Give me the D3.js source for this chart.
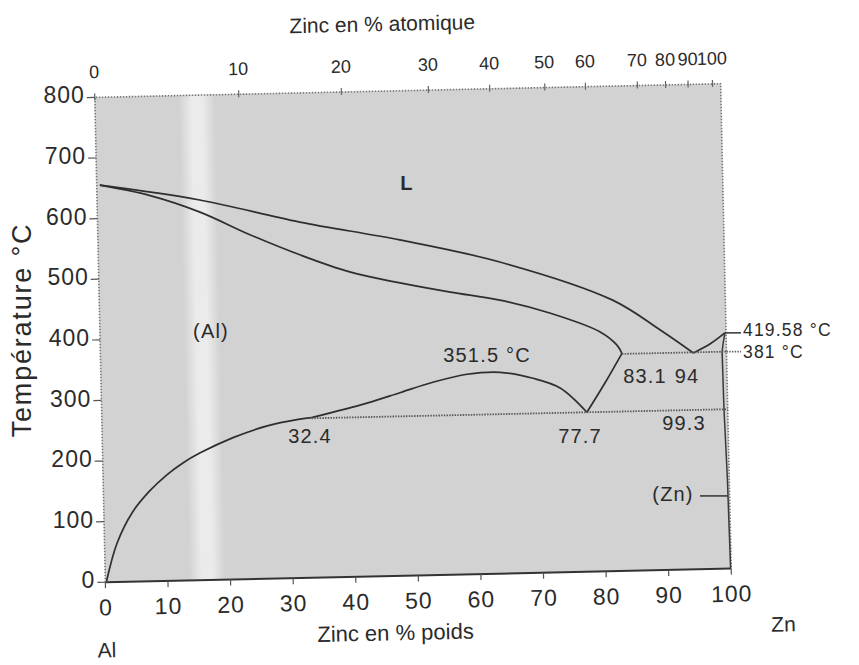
<!DOCTYPE html>
<html><head><meta charset="utf-8">
<script src="https://cdn.jsdelivr.net/npm/d3@7"></script>
<style>
body{margin:0;background:#fff}
svg{display:block}
text{font-family:"Liberation Sans",Arial,sans-serif;fill:#2b2b2b}
</style></head>
<body><svg id="c" width="859" height="665"></svg>
<script>
// ---------- data (wt% Zn, temperature °C) ----------
const xTicks = [0,10,20,30,40,50,60,70,80,90,100];
const yTicks = [0,100,200,300,400,500,600,700,800];
const atomicLabels = [0,10,20,30,40,50,60,70,80,90,100];
const atomicPosWt  = [0,23.0,39.4,53.3,63.1,71.9,78.4,86.7,91.2,94.8,98.7];

const liquidusAl = [[0.5,655],[16.4,627],[32.3,587],[48.2,554],[64.1,514],[82,447],[89.5,396],[94.7,357]];
const liquidusZn = [[94.7,357],[97.5,372],[99.8,389]];
const solidusAl  = [[0.5,655],[8.5,636],[16.4,607],[24.3,568],[32.2,533],[40.1,503],[48.1,483],[56.1,466],[64,451],[71.9,428],[79.9,395],[82.5,373],[83.3,359]];
const solvusAl   = [[0.2,2],[2,64],[4.6,115],[7.4,149],[10.2,175],[12.8,194],[15.6,210],[20.9,234],[26.4,252],[31.6,262],[33.5,264]];
const domeGap    = [[33.5,264],[42.4,286],[47.7,302],[53,318],[58.5,330],[63.8,332],[69,321],[73.3,304],[77.5,263]];
const domeRight  = [[77.5,263],[80.5,311],[83.3,359]];
const solvusZn   = [[99.8,389],[99.5,372],[99.3,358],[99.4,263],[99.7,150],[99.9,0]];
const eutecticLine  = [[83.3,358],[100,358]];
const eutectoidLine = [[33.5,263],[100,263]];

// ---------- layout ----------
const cx=413, cy=333, ang=-1.25;
const L=100, R=726, T=90.5, B=575.5;
const x = d3.scaleLinear().domain([0,100]).range([L,R]);
const y = d3.scaleLinear().domain([0,800]).range([B,T]);
const rad = ang*Math.PI/180, cs=Math.cos(rad), sn=Math.sin(rad);
function rot(px,py){const dx=px-cx, dy=py-cy; return [cx+dx*cs-dy*sn, cy+dx*sn+dy*cs];}

const svg = d3.select('#c');
const defs = svg.append('defs');
const gr = defs.append('linearGradient').attr('id','band').attr('x1',0).attr('x2',1).attr('y1',0).attr('y2',0);
gr.append('stop').attr('offset',0).attr('stop-color','#d2d2d2');
gr.append('stop').attr('offset',0.35).attr('stop-color','#ebebeb');
gr.append('stop').attr('offset',0.65).attr('stop-color','#ebebeb');
gr.append('stop').attr('offset',1).attr('stop-color','#d2d2d2');

const g = svg.append('g').attr('transform',`rotate(${ang},${cx},${cy})`);
g.append('rect').attr('x',L).attr('y',T).attr('width',R-L).attr('height',B-T).attr('fill','#d2d2d2');
g.append('rect').attr('x',184).attr('y',T).attr('width',36).attr('height',B-T).attr('fill','url(#band)');
g.append('path').attr('d',`M${L},${B}V${T}H${R}V${B}`).attr('fill','none')
  .attr('stroke','#777').attr('stroke-width',1.6).attr('stroke-dasharray','1.5,1.5');
g.append('line').attr('x1',L).attr('x2',R).attr('y1',B).attr('y2',B).attr('stroke','#333').attr('stroke-width',2);

// bottom ticks + labels
g.selectAll('.xt').data(xTicks).join('line').attr('x1',d=>x(d)).attr('x2',d=>x(d))
  .attr('y1',B).attr('y2',B+6).attr('stroke','#555').attr('stroke-width',1.2);
g.selectAll('.xl').data(xTicks).join('text').attr('x',d=>x(d)).attr('y',B+27)
  .attr('text-anchor','middle').attr('dominant-baseline','middle')
  .style('font-size','23px').style('letter-spacing','1px').text(d=>d);
// top (atomic %) ticks + labels
g.selectAll('.at').data(atomicPosWt).join('line').attr('x1',d=>x(d)).attr('x2',d=>x(d))
  .attr('y1',T-4).attr('y2',T+3).attr('stroke','#666').attr('stroke-width',1.2);
g.selectAll('.al').data(atomicLabels).join('text').attr('x',(d,i)=>x(atomicPosWt[i])).attr('y',T-24)
  .attr('text-anchor','middle').attr('dominant-baseline','middle')
  .style('font-size','18px').text(d=>d);
g.append('text').attr('x',389).attr('y',25).attr('text-anchor','middle').attr('dominant-baseline','middle')
  .style('font-size','21px').text('Zinc en % atomique');
g.append('text').attr('x',389).attr('y',634).attr('text-anchor','middle').attr('dominant-baseline','middle')
  .style('font-size','22px').text('Zinc en % poids');
g.append('text').attr('x',100).attr('y',645).attr('text-anchor','middle').attr('dominant-baseline','middle')
  .style('font-size','21px').text('Al');
g.append('text').attr('x',777).attr('y',634).attr('text-anchor','middle').attr('dominant-baseline','middle')
  .style('font-size','21px').text('Zn');
// y ticks
g.selectAll('.yt').data(yTicks).join('line').attr('x1',L-8).attr('x2',L)
  .attr('y1',d=>y(d)).attr('y2',d=>y(d)).attr('stroke','#555').attr('stroke-width',1.2);
// y labels (upright on screen)
svg.selectAll('.yl').data(yTicks).join('text')
  .attr('x',d=>rot(L,y(d))[0]-10).attr('y',d=>rot(L,y(d))[1])
  .attr('text-anchor','end').attr('dominant-baseline','middle')
  .style('font-size','23px').style('letter-spacing','1px').text(d=>d);
svg.append('text').attr('transform','translate(24,330) rotate(-90)')
  .attr('text-anchor','middle').attr('dominant-baseline','middle')
  .style('font-size','27px').style('letter-spacing','1.8px').text('Température °C');

// curves
const line = d3.line().x(d=>x(d[0])).y(d=>y(d[1])).curve(d3.curveCatmullRom.alpha(0.5));
const lineLin = d3.line().x(d=>x(d[0])).y(d=>y(d[1]));
[liquidusAl, liquidusZn, solidusAl, solvusAl, domeGap, domeRight].forEach(d=>{
  g.append('path').attr('d',line(d)).attr('fill','none').attr('stroke','#2e2e2e').attr('stroke-width',1.7);
});
g.append('path').attr('d',lineLin(solvusZn)).attr('fill','none').attr('stroke','#3a3a3a').attr('stroke-width',1.5);
[eutecticLine, eutectoidLine].forEach(d=>{
  g.append('path').attr('d',lineLin(d)).attr('fill','none').attr('stroke','#5a5a5a')
   .attr('stroke-width',1.8).attr('stroke-dasharray','1.5,1.2');
});

// leaders (screen)
const pZn = rot(x(99.8),y(389));
svg.append('line').attr('x1',pZn[0]).attr('y1',pZn[1]).attr('x2',741).attr('y2',pZn[1]).attr('stroke','#333').attr('stroke-width',1.5);
const pE = rot(x(100),y(358));
svg.append('line').attr('x1',pE[0]).attr('y1',pE[1]).attr('x2',741).attr('y2',pE[1]).attr('stroke','#666').attr('stroke-width',1.6).attr('stroke-dasharray','1.5,1.2');
const pS = rot(x(99.7),y(120));
svg.append('line').attr('x1',700).attr('y1',pS[1]).attr('x2',pS[0]).attr('y2',pS[1]).attr('stroke','#333').attr('stroke-width',1.5);

// annotations (screen)
const ann = [
  {t:'L', x:407, y:185, a:'middle', w:'bold', s:20},
  {t:'(Al)', x:211, y:333, a:'middle', s:20},
  {t:'351.5 °C', x:487, y:357, a:'middle', s:20},
  {t:'32.4', x:310, y:438, a:'middle', s:20},
  {t:'77.7', x:580, y:438, a:'middle', s:20},
  {t:'83.1', x:645, y:378, a:'middle', s:20},
  {t:'94', x:687, y:378, a:'middle', s:20},
  {t:'99.3', x:684, y:425, a:'middle', s:20},
  {t:'419.58 °C', x:743, y:pZn[1]-1, a:'start', s:17.5},
  {t:'381 °C', x:743, y:pE[1]+2, a:'start', s:17.5},
  {t:'(Zn)', x:673, y:pS[1], a:'middle', s:20}
];
svg.selectAll('.ann').data(ann).join('text').attr('x',d=>d.x).attr('y',d=>d.y)
  .attr('text-anchor',d=>d.a).attr('dominant-baseline','middle')
  .style('font-size',d=>d.s+'px').style('letter-spacing','1.2px').style('font-weight',d=>d.w||'normal').text(d=>d.t);
</script></body></html>
